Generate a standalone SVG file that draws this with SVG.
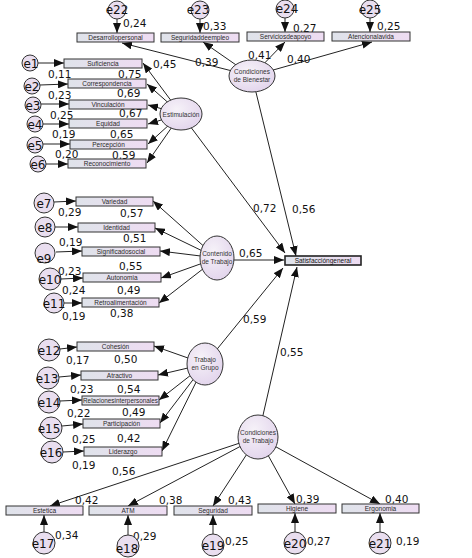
<svg xmlns="http://www.w3.org/2000/svg" width="472" height="558" viewBox="0 0 472 558">
<defs>
<linearGradient id="bx" x1="0" y1="0" x2="1" y2="0"><stop offset="0" stop-color="#dfe3ea"/><stop offset="1" stop-color="#eedcf2"/></linearGradient>
<radialGradient id="el" cx="0.4" cy="0.35" r="0.7"><stop offset="0" stop-color="#f6f2f8"/><stop offset="1" stop-color="#e2d4ec"/></radialGradient>
<marker id="ah" markerUnits="userSpaceOnUse" markerWidth="10" markerHeight="8" refX="10" refY="4" orient="auto"><path d="M0,0 L10,4 L0,8 z" fill="#111"/></marker>
<style>
.c line{stroke:#222;stroke-width:1;marker-end:url(#ah)}
.b rect{fill:url(#bx);stroke:#333;stroke-width:1}
.b text{font-family:"Liberation Sans",Arial,sans-serif;font-size:6.5px;fill:#2a2a2a;text-anchor:middle}
.l ellipse{fill:url(#el);stroke:#333;stroke-width:1}
.l text{font-family:"Liberation Sans",Arial,sans-serif;font-size:6.5px;fill:#333;text-anchor:middle}
.e circle{fill:#e9deef;stroke:#333;stroke-width:1}
.e text{font-family:"DejaVu Sans",sans-serif;font-size:12px;fill:#111;text-anchor:middle}
.n text{font-family:"DejaVu Sans",sans-serif;font-size:10.5px;fill:#111}
</style>
</defs>
<rect width="472" height="558" fill="#fff"/>
<g id="connectors" class="c">
<line x1="117" y1="19" x2="117" y2="33"/>
<line x1="200" y1="19" x2="200" y2="33"/>
<line x1="285" y1="18" x2="285" y2="32"/>
<line x1="370" y1="18" x2="370" y2="32"/>
<line x1="252" y1="76" x2="122" y2="43"/>
<line x1="252" y1="76" x2="203" y2="42"/>
<line x1="252" y1="76" x2="285" y2="42"/>
<line x1="252" y1="76" x2="372" y2="42"/>
<line x1="252" y1="76" x2="296" y2="256"/>
<line x1="38" y1="63" x2="64" y2="63"/>
<line x1="40" y1="85" x2="68" y2="84"/>
<line x1="41" y1="104" x2="69" y2="104"/>
<line x1="43" y1="124" x2="69" y2="124"/>
<line x1="43" y1="144" x2="70" y2="144"/>
<line x1="46" y1="164" x2="68" y2="164"/>
<line x1="181" y1="114" x2="143" y2="63"/>
<line x1="181" y1="114" x2="147" y2="84"/>
<line x1="181" y1="114" x2="148" y2="105"/>
<line x1="181" y1="114" x2="148" y2="124"/>
<line x1="181" y1="114" x2="148" y2="144"/>
<line x1="181" y1="114" x2="147" y2="163"/>
<line x1="181" y1="114" x2="285" y2="253"/>
<line x1="54" y1="202" x2="76" y2="201"/>
<line x1="55" y1="227" x2="78" y2="227"/>
<line x1="56" y1="252" x2="82" y2="251"/>
<line x1="61" y1="279" x2="83" y2="278"/>
<line x1="64" y1="303" x2="82" y2="303"/>
<line x1="217" y1="258" x2="153" y2="201"/>
<line x1="217" y1="258" x2="155" y2="228"/>
<line x1="217" y1="258" x2="160" y2="251"/>
<line x1="217" y1="258" x2="161" y2="278"/>
<line x1="217" y1="258" x2="159" y2="303"/>
<line x1="217" y1="260" x2="284" y2="260"/>
<line x1="60" y1="349" x2="77" y2="347"/>
<line x1="59" y1="377" x2="81" y2="375"/>
<line x1="60" y1="401" x2="82" y2="400"/>
<line x1="62" y1="426" x2="83" y2="424"/>
<line x1="63" y1="452" x2="84" y2="451"/>
<line x1="205" y1="364" x2="154" y2="346"/>
<line x1="205" y1="364" x2="158" y2="375"/>
<line x1="205" y1="364" x2="159" y2="400"/>
<line x1="205" y1="364" x2="160" y2="423"/>
<line x1="205" y1="364" x2="162" y2="451"/>
<line x1="205" y1="364" x2="283" y2="268"/>
<line x1="258" y1="437" x2="297" y2="267"/>
<line x1="258" y1="437" x2="50" y2="506"/>
<line x1="258" y1="437" x2="128" y2="506"/>
<line x1="258" y1="437" x2="213" y2="506"/>
<line x1="258" y1="437" x2="295" y2="504"/>
<line x1="258" y1="437" x2="380" y2="504"/>
<line x1="44" y1="532" x2="44" y2="515"/>
<line x1="128" y1="535" x2="128" y2="515"/>
<line x1="213" y1="534" x2="213" y2="515"/>
<line x1="295" y1="532" x2="295" y2="513"/>
<line x1="380" y1="532" x2="380" y2="513"/>
</g>
<g id="numbers" class="n">
<text x="123" y="27">0,24</text>
<text x="203" y="30">0,33</text>
<text x="293" y="32">0,27</text>
<text x="377" y="30">0,25</text>
<text x="153" y="68">0,45</text>
<text x="195" y="66">0,39</text>
<text x="248" y="59">0,41</text>
<text x="287" y="63">0,40</text>
<text x="48" y="78">0,11</text>
<text x="118" y="78">0,75</text>
<text x="48" y="99">0,23</text>
<text x="117" y="97">0,69</text>
<text x="50" y="119">0,25</text>
<text x="119" y="117">0,67</text>
<text x="52" y="138">0,19</text>
<text x="110" y="138">0,65</text>
<text x="55" y="158">0,20</text>
<text x="112" y="159">0,59</text>
<text x="58" y="216">0,29</text>
<text x="120" y="217">0,57</text>
<text x="123" y="242">0,51</text>
<text x="59" y="246">0,19</text>
<text x="58" y="275">0,23</text>
<text x="119" y="270">0,55</text>
<text x="62" y="294">0,24</text>
<text x="117" y="294">0,49</text>
<text x="62" y="320">0,19</text>
<text x="110" y="317">0,38</text>
<text x="253" y="212">0,72</text>
<text x="292" y="213">0,56</text>
<text x="239" y="257">0,65</text>
<text x="243" y="323">0,59</text>
<text x="280" y="356">0,55</text>
<text x="66" y="364">0,17</text>
<text x="114" y="363">0,50</text>
<text x="70" y="393">0,23</text>
<text x="117" y="393">0,54</text>
<text x="67" y="417">0,22</text>
<text x="122" y="416">0,49</text>
<text x="72" y="443">0,25</text>
<text x="117" y="442">0,42</text>
<text x="72" y="469">0,19</text>
<text x="112" y="475">0,56</text>
<text x="75" y="504">0,42</text>
<text x="159" y="504">0,38</text>
<text x="228" y="504">0,43</text>
<text x="296" y="503">0,39</text>
<text x="385" y="503">0,40</text>
<text x="55" y="539">0,34</text>
<text x="133" y="540">0,29</text>
<text x="225" y="545">0,25</text>
<text x="307" y="545">0,27</text>
<text x="396" y="545">0,19</text>
</g>
<g id="Desarrollopersonal" class="b"><rect x="77" y="33" width="77" height="9"/><text x="115.5" y="40">Desarrollopersonal</text></g>
<g id="Seguridaddeempleo" class="b"><rect x="161" y="33" width="78" height="9"/><text x="200" y="40">Seguridaddeempleo</text></g>
<g id="Serviciosdeapoyo" class="b"><rect x="247" y="32" width="77" height="9"/><text x="285.5" y="39">Serviciosdeapoyo</text></g>
<g id="Atencionalavida" class="b"><rect x="332" y="32" width="78" height="9"/><text x="371" y="39">Atencionalavida</text></g>
<g id="Suficiencia" class="b"><rect x="64" y="59" width="78" height="9"/><text x="103" y="66">Suficiencia</text></g>
<g id="Correspondencia" class="b"><rect x="68" y="79" width="78" height="9"/><text x="107" y="86">Correspondencia</text></g>
<g id="Vinculacion" class="b"><rect x="69" y="100" width="78" height="9"/><text x="108" y="107">Vinculación</text></g>
<g id="Equidad" class="b"><rect x="69" y="119" width="78" height="9"/><text x="108" y="126">Equidad</text></g>
<g id="Percepcion" class="b"><rect x="70" y="140" width="77" height="9"/><text x="108.5" y="147">Percepción</text></g>
<g id="Reconocimiento" class="b"><rect x="68" y="159" width="78" height="9"/><text x="107" y="166">Reconocimiento</text></g>
<g id="Variedad" class="b"><rect x="76" y="197" width="77" height="9"/><text x="114.5" y="204">Variedad</text></g>
<g id="Identidad" class="b"><rect x="78" y="223" width="77" height="9"/><text x="116.5" y="230">Identidad</text></g>
<g id="Significadosocial" class="b"><rect x="82" y="247" width="78" height="9"/><text x="121" y="254">Significadosocial</text></g>
<g id="Autonomia" class="b"><rect x="83" y="273" width="78" height="9"/><text x="122" y="280">Autonomia</text></g>
<g id="Retroalimentacion" class="b"><rect x="82" y="298" width="77" height="9"/><text x="120.5" y="305">Retroalimentación</text></g>
<g id="Cohesion" class="b"><rect x="77" y="342" width="77" height="9"/><text x="115.5" y="349">Cohesión</text></g>
<g id="Atractivo" class="b"><rect x="81" y="371" width="77" height="9"/><text x="119.5" y="378">Atractivo</text></g>
<g id="Relacionesinterpersonales" class="b"><rect x="82" y="396" width="77" height="9"/><text x="120.5" y="403" textLength="75" lengthAdjust="spacingAndGlyphs">Relacionesinterpersonales</text></g>
<g id="Participacion" class="b"><rect x="83" y="419" width="77" height="9"/><text x="121.5" y="426">Participación</text></g>
<g id="Liderazgo" class="b"><rect x="84" y="447" width="78" height="9"/><text x="123" y="454">Liderazgo</text></g>
<g id="Estetica" class="b"><rect x="6" y="506" width="77" height="9"/><text x="44.5" y="513">Estetica</text></g>
<g id="ATM" class="b"><rect x="89" y="506" width="78" height="9"/><text x="128" y="513">ATM</text></g>
<g id="Seguridad" class="b"><rect x="174" y="506" width="78" height="9"/><text x="213" y="513">Seguridad</text></g>
<g id="Higiene" class="b"><rect x="258" y="504" width="78" height="9"/><text x="297" y="511">Higiene</text></g>
<g id="Ergonomia" class="b"><rect x="342" y="504" width="77" height="9"/><text x="380.5" y="511">Ergonomia</text></g>
<g id="Satisfaccion" class="b"><rect x="285" y="256" width="76" height="9" style="stroke:#222;stroke-width:1.6"/><text x="323" y="263" style="fill:#111">Satisfaccióngeneral</text></g>
<g id="CondicionesBienestar" class="l"><ellipse cx="252" cy="76" rx="23" ry="16"/><text x="252" y="74">Condiciones</text><text x="252" y="82">de Bienestar</text></g>
<g id="Estimulacion" class="l"><ellipse cx="181" cy="114" rx="21" ry="16"/><text x="181" y="117">Estimulación</text></g>
<g id="ContenidoTrabajo" class="l"><ellipse cx="217" cy="258" rx="17" ry="22"/><text x="217" y="256">Contenido</text><text x="217" y="264">de Trabajo</text></g>
<g id="TrabajoGrupo" class="l"><ellipse cx="205" cy="364" rx="18" ry="21"/><text x="205" y="362">Trabajo</text><text x="205" y="370">en Grupo</text></g>
<g id="CondicionesTrabajo" class="l"><ellipse cx="258" cy="437" rx="20" ry="22"/><text x="258" y="435">Condiciones</text><text x="258" y="443">de Trabajo</text></g>
<g id="e22" class="e"><circle cx="117" cy="10" r="9"/><text x="117" y="14">e22</text></g>
<g id="e23" class="e"><circle cx="200" cy="10" r="9"/><text x="198" y="14">e23</text></g>
<g id="e24" class="e"><circle cx="285" cy="9" r="9"/><text x="287" y="13">e24</text></g>
<g id="e25" class="e"><circle cx="370" cy="9" r="9"/><text x="370" y="14">e25</text></g>
<g id="e1" class="e"><circle cx="30" cy="63" r="8"/><text x="31" y="68">e1</text></g>
<g id="e2" class="e"><circle cx="32" cy="86" r="8"/><text x="32" y="91">e2</text></g>
<g id="e3" class="e"><circle cx="33" cy="105" r="8"/><text x="33" y="110">e3</text></g>
<g id="e4" class="e"><circle cx="35" cy="124" r="8"/><text x="35" y="129">e4</text></g>
<g id="e5" class="e"><circle cx="35" cy="145" r="8"/><text x="35" y="150">e5</text></g>
<g id="e6" class="e"><circle cx="38" cy="164" r="8"/><text x="38" y="169">e6</text></g>
<g id="e7" class="e"><circle cx="44" cy="203" r="10"/><text x="44" y="208">e7</text></g>
<g id="e8" class="e"><circle cx="45" cy="227" r="10"/><text x="45" y="232">e8</text></g>
<g id="e9" class="e"><circle cx="45" cy="253" r="10"/><text x="44" y="263">e9</text></g>
<g id="e10" class="e"><circle cx="50" cy="279" r="11"/><text x="50" y="284">e10</text></g>
<g id="e11" class="e"><circle cx="54" cy="303" r="10"/><text x="54" y="308">e11</text></g>
<g id="e12" class="e"><circle cx="49" cy="350" r="11"/><text x="49" y="355">e12</text></g>
<g id="e13" class="e"><circle cx="48" cy="378" r="11"/><text x="47" y="383">e13</text></g>
<g id="e14" class="e"><circle cx="49" cy="402" r="11"/><text x="49" y="407">e14</text></g>
<g id="e15" class="e"><circle cx="51" cy="428" r="11"/><text x="49" y="433">e15</text></g>
<g id="e16" class="e"><circle cx="52" cy="452" r="11"/><text x="51" y="457">e16</text></g>
<g id="e17" class="e"><circle cx="44" cy="543" r="11"/><text x="43" y="548">e17</text></g>
<g id="e18" class="e"><circle cx="128" cy="546" r="11"/><text x="127" y="553">e18</text></g>
<g id="e19" class="e"><circle cx="213" cy="545" r="11"/><text x="213" y="550">e19</text></g>
<g id="e20" class="e"><circle cx="295" cy="543" r="11"/><text x="295" y="548">e20</text></g>
<g id="e21" class="e"><circle cx="380" cy="543" r="11"/><text x="380" y="548">e21</text></g>
</svg>
